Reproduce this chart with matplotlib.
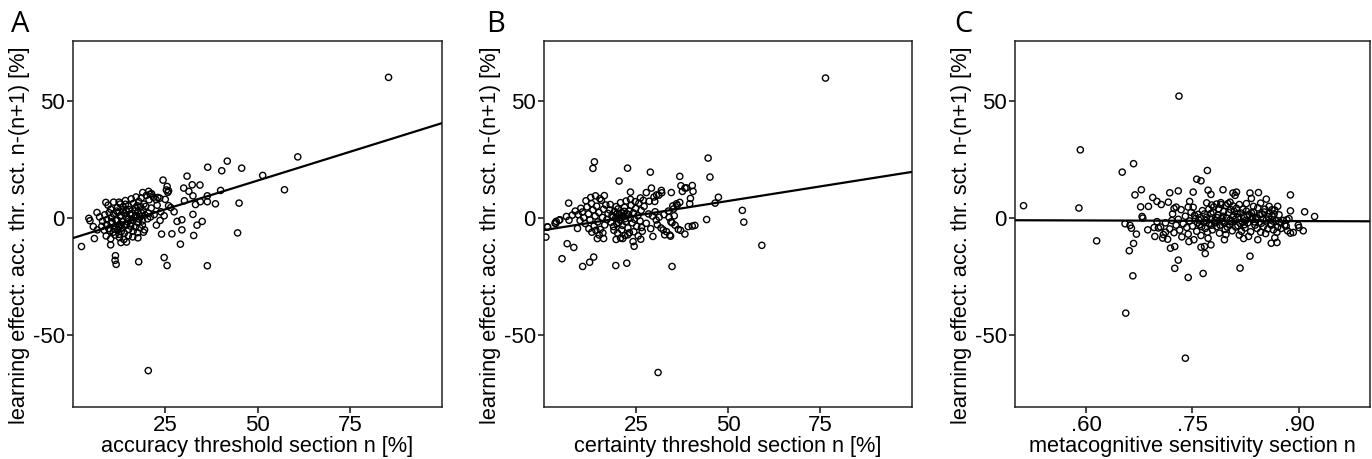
import matplotlib
matplotlib.use("Agg")
import matplotlib.pyplot as plt
import numpy as np

plt.rcParams["font.family"] = ["Liberation Sans", "DejaVu Sans"]
plt.rcParams["axes.unicode_minus"] = False

# ---- panel A: accuracy threshold section n [%] vs learning effect ----
a_pts = [
    # dense core
    (9.5, 5.5), (10.2, 3.8), (11.0, 6.8), (12.0, 4.5), (12.8, 6.0), (13.5, 3.0), (14.2, 7.5),
    (15.0, 5.2), (15.8, 8.2), (16.4, 6.3), (17.1, 9.0), (17.8, 7.1), (18.5, 8.6), (19.2, 6.0),
    (19.9, 9.7), (20.6, 7.8), (21.3, 10.4), (18.9, 10.9), (16.9, 4.4), (17.6, 2.8), (18.3, 4.9),
    (19.0, 3.3), (19.7, 5.0), (20.4, 2.1), (21.2, 4.3), (22.0, 1.5), (22.5, 7.9),
    (7.2, 0.5), (8.0, -1.3), (8.6, 1.4), (9.2, -0.6), (9.8, 2.3), (10.4, 0.2), (11.0, 1.8),
    (11.6, -0.9), (12.2, 2.5), (12.8, 0.8), (13.4, -1.5), (14.0, 1.9), (14.6, 0.1), (15.2, 3.6),
    (15.8, 1.2), (16.4, -0.8), (17.0, 1.0), (17.6, -1.9), (18.2, 0.6), (18.8, -1.2), (19.5, 1.3),
    (20.2, -0.3), (21.0, 0.5),
    (7.8, -3.5), (8.5, -5.2), (9.1, -2.8), (9.7, -4.5), (10.3, -2.0), (10.9, -6.0), (11.5, -3.3),
    (12.1, -5.0), (12.7, -2.6), (13.3, -4.2), (13.9, -6.5), (14.5, -3.0), (15.1, -4.8), (15.7, -2.2),
    (16.3, -5.6), (16.9, -3.8), (17.5, -6.2), (18.1, -4.1), (18.8, -3.0), (19.4, -5.0),
    (9.0, -7.6), (10.2, -8.8), (11.4, -7.2), (12.6, -8.3), (13.8, -9.1), (15.0, -7.5), (16.2, -8.0),
    (12.0, -1.0), (13.0, 1.2), (14.0, -2.8), (15.0, -0.5), (16.0, 2.0), (13.6, 4.8), (11.8, 3.0),
    (10.6, -1.5), (12.4, -3.8), (14.8, -1.6), (15.4, 1.7), (16.8, 3.1), (17.4, 5.3), (14.4, 3.4),
    (13.1, -5.7), (11.2, -4.7), (15.6, -3.4), (17.9, -0.4), (18.6, 2.2), (16.6, 0.2), (14.2, 5.9),
    (12.5, -6.9), (10.0, -5.4),
    # spread
    (85.5, 60.0), (60.9, 26.1), (57.3, 12.1), (51.4, 18.2), (45.7, 21.3), (41.8, 24.3), (36.5, 21.7),
    (40.3, 20.2), (40.0, 11.8), (45.0, 6.4), (44.6, -6.3), (38.6, 6.1), (36.4, 7.0), (36.4, 9.5),
    (34.4, 14.1), (32.3, 14.2), (30.9, 17.9), (30.0, 12.8), (31.4, 11.4), (32.5, 9.5), (30.2, 7.4),
    (34.5, 7.0), (33.2, 5.8), (32.5, 1.6), (35.0, -1.4), (33.6, -3.0), (32.7, -7.4), (29.5, -0.7),
    (28.2, -1.4), (29.5, -5.0), (29.1, -11.1), (26.8, -6.7), (27.4, 2.7), (25.9, 5.3), (25.9, 11.6),
    (25.5, 13.5), (24.4, 16.2), (24.7, 1.0), (23.8, 2.7), (23.6, -1.0), (24.0, -6.8), (22.6, -3.0),
    (24.7, -16.8), (25.5, -20.2), (36.4, -20.3), (17.8, -18.6), (20.4, -65.0), (2.3, -12.1),
    (5.8, -8.7), (11.5, -16.0), (11.4, -18.0), (11.7, -19.7), (10.2, -11.4), (13.0, -10.4),
    (14.5, -10.2), (17.6, -8.4), (19.1, -6.0), (8.9, 6.7), (6.5, 2.4), (4.3, -0.1), (4.6, -1.1),
    (5.5, -3.6), (6.6, -5.0), (12.5, 6.8), (23.0, 8.8), (21.8, 8.9), (20.9, 10.2), (20.5, 11.4),
    (25.3, 12.0), (25.7, 11.0), (23.5, 8.5), (22.8, 5.5), (26.5, 4.5), (25.0, 8.0),
]
a_fit = (-8.5, 0.49)  # value at left edge, slope

# ---- panel B: certainty threshold section n [%] ----
b_pts = [
    (8.5, 3.0), (9.3, 1.5), (9.8, -1.0), (10.4, 2.6), (10.8, 0.2), (11.2, -2.3), (11.7, 4.8),
    (12.1, 1.8), (12.5, -0.8), (12.9, 6.2), (13.3, 3.5), (13.6, -3.4), (13.9, 0.9), (14.3, 5.1),
    (14.6, -1.6), (14.9, 2.4), (15.3, -4.8), (15.6, 7.6), (15.9, 0.3), (16.2, 3.8), (16.5, -2.9),
    (16.8, 5.6), (17.1, -0.6), (17.4, 2.0), (12.2, -4.5), (13.0, -6.0), (14.1, -5.2), (15.0, -7.2),
    (16.0, -6.3), (10.0, 4.2), (11.4, 7.4), (12.7, 8.8), (14.0, 9.5), (15.2, 8.3), (16.4, 9.6),
    (17.8, 3.5), (18.2, -1.8), (18.5, 1.2), (18.9, -3.6), (19.2, 2.8), (19.5, 0.1), (19.8, -2.4),
    (20.1, 3.9), (20.4, 1.5), (20.7, -0.9), (21.0, 2.3), (21.3, -3.1), (21.6, 0.6), (21.9, 4.6),
    (22.2, -1.5), (22.5, 1.9), (22.8, -4.2), (23.1, 3.0), (23.4, 0.0), (23.7, 5.5), (24.0, -2.0),
    (24.3, 2.2), (24.6, -0.5), (24.9, 4.1), (25.2, -3.5), (25.5, 1.0), (25.8, 6.4), (26.1, -1.2),
    (26.4, 3.3), (26.7, -5.6), (19.0, -5.2), (20.0, -6.4), (21.1, -5.0), (22.0, -7.4), (23.2, -6.2),
    (24.4, -5.8), (25.6, -7.6), (26.5, -4.0), (18.0, 5.8), (19.6, 4.9), (20.8, 6.6), (22.3, 7.3),
    (23.5, 8.0), (24.8, 7.0), (26.2, 8.6), (19.9, 2.0), (20.6, 0.2), (21.4, 1.1), (22.1, -0.2),
    (18.7, 0.4), (20.3, -1.9), (21.8, 2.9), (23.0, 1.4),
    (27.2, 5.0), (27.8, -2.2), (28.4, 1.8), (29.0, -4.5), (29.5, 0.9), (30.2, 2.7), (30.8, -2.8),
    (31.3, 0.4), (31.8, -4.2), (32.6, 1.5), (33.3, -5.8), (34.0, 0.3), (34.5, -1.6), (35.2, 3.9),
    (35.6, -3.0), (33.8, 3.0), (35.0, 5.2), (36.2, 5.5), (27.0, 7.6), (28.6, 7.2), (29.9, 9.0),
    (31.2, 9.8), (32.0, 10.8), (30.5, -0.8), (34.8, -2.0), (35.4, 1.0),
    (76.5, 59.7), (44.6, 25.6), (45.1, 17.5), (36.9, 17.8), (28.9, 19.6), (22.7, 21.3), (13.7, 24.0),
    (13.3, 21.2), (20.4, 15.8), (40.3, 13.9), (40.5, 11.4), (39.8, 8.4), (37.2, 13.8), (37.6, 11.4),
    (38.3, 12.8), (47.4, 8.9), (46.5, 6.4), (34.6, 10.9), (39.6, 6.1), (36.9, 6.7), (36.0, 6.1),
    (31.9, 11.8), (29.2, 12.8), (27.8, 10.9), (30.6, 9.9), (30.1, 7.1), (23.5, 11.1), (53.9, 3.3),
    (54.3, -1.7), (59.2, -11.6), (44.2, -0.6), (38.3, -6.8), (36.5, -4.8), (39.2, -3.6), (40.3, -3.4),
    (41.0, -3.1), (34.2, -7.2), (32.8, -7.1), (32.4, -5.0), (29.6, -7.8), (34.8, -20.6), (31.0, -65.8),
    (22.5, -19.2), (19.5, -20.2), (10.5, -20.6), (12.4, -18.8), (13.5, -16.6), (4.9, -17.3),
    (6.3, -10.9), (8.1, -12.5), (0.5, -8.1), (1.0, -3.8), (3.0, -2.1), (3.3, -1.4), (4.3, -0.7),
    (6.7, 6.4), (6.1, 0.7), (6.8, -0.9), (7.7, 1.3), (24.2, -10.0), (24.5, -12.0), (26.3, -9.0),
    (22.8, -7.1), (20.8, -8.5), (9.1, -4.4), (14.5, -8.7), (16.2, -8.7), (19.6, -9.1), (21.4, -8.7),
    (3.2, -2.3), (4.1, -0.9), (0.9, -3.7), (38.7, 12.9), (37.1, -5.2), (34.4, -7.7),
]
b_fit = (-5.1, 0.248)

# ---- panel C: metacognitive sensitivity section n ----
c_pts = [
    (0.700, -1.5), (0.705, -3.8), (0.709, -7.0), (0.712, -2.0), (0.715, -9.0), (0.718, -4.6),
    (0.721, -1.0), (0.724, -6.2), (0.727, -3.0), (0.730, -0.5), (0.732, -5.1), (0.735, -8.0),
    (0.737, -2.4), (0.740, 0.8), (0.742, -4.0), (0.744, -6.8), (0.746, -1.2), (0.748, 2.5),
    (0.750, -3.4), (0.752, -9.2), (0.754, -0.2), (0.756, -5.6), (0.758, 1.6), (0.760, -2.8),
    (0.762, -7.4), (0.764, 3.2), (0.766, -1.8), (0.768, -4.4), (0.770, 0.4), (0.772, -8.6),
    (0.774, -2.2), (0.776, 2.0), (0.778, -5.0), (0.780, 4.8), (0.782, -0.8), (0.784, -3.6),
    (0.786, 1.2), (0.788, -6.4), (0.790, 5.8), (0.792, -1.4), (0.794, 2.8), (0.796, -4.8),
    (0.798, 0.0), (0.800, 6.2), (0.802, -2.6), (0.804, 3.6), (0.806, -5.4), (0.808, 1.0),
    (0.810, -0.6), (0.812, 4.2), (0.814, -3.2), (0.816, -7.2), (0.818, 2.2), (0.820, -1.6),
    (0.822, 0.6), (0.824, -4.2), (0.826, 3.0), (0.828, -2.0), (0.830, 1.6), (0.832, -5.8),
    (0.834, -0.4), (0.836, 2.6), (0.838, -3.0), (0.840, 0.2), (0.842, 4.4), (0.844, -1.8),
    (0.846, -6.0), (0.848, 1.8), (0.850, -3.6), (0.852, 3.8), (0.854, -0.8), (0.856, -4.6),
    (0.858, 2.0), (0.860, -2.4), (0.862, 0.8), (0.864, -5.0), (0.866, 3.4), (0.868, -1.2),
    (0.870, -3.8), (0.872, 1.4), (0.875, -4.4), (0.878, -1.0), (0.882, -3.4), (0.886, -0.2),
    (0.722, 1.8), (0.734, 3.6), (0.745, -10.0), (0.751, 4.6), (0.757, -2.0), (0.761, 0.2),
    (0.763, -3.6), (0.767, 1.8), (0.771, -6.0), (0.775, -0.4), (0.779, 2.6), (0.783, -2.0),
    (0.787, 4.0), (0.789, -3.0), (0.793, 0.8), (0.797, -7.0), (0.801, 2.4), (0.803, -0.8),
    (0.807, 5.2), (0.811, -3.8), (0.815, 0.4), (0.819, -5.6), (0.821, 3.8), (0.825, -1.0),
    (0.829, -7.8), (0.833, 2.2), (0.837, -1.6), (0.841, -4.4), (0.845, 1.4), (0.849, -0.4),
    (0.853, -6.6), (0.857, 0.6), (0.861, -3.0), (0.865, 1.8), (0.869, -6.0), (0.753, 1.2),
    (0.769, -1.0), (0.777, -3.0), (0.785, 0.2), (0.795, -2.2), (0.805, -1.4), (0.813, 1.8),
    (0.823, -2.8), (0.835, 0.4), (0.847, -2.2), (0.759, -0.8), (0.773, 3.8), (0.781, -1.8),
    (0.791, -0.2), (0.799, -3.8), (0.809, 2.8), (0.817, -2.2), (0.827, 1.2), (0.839, -0.2),
    (0.851, 2.6), (0.863, -1.2), (0.873, -1.8), (0.880, -3.0), (0.884, -5.4),
    (0.770, 6.5), (0.777, 5.6), (0.784, 6.0), (0.790, 6.6), (0.797, 5.4), (0.803, 6.8),
    (0.816, 5.8), (0.826, 6.2), (0.836, 5.0), (0.846, 6.4), (0.858, 5.0), (0.862, 3.6),
    (0.512, 5.3), (0.592, 29.1), (0.590, 4.3), (0.615, -9.7), (0.651, 19.6), (0.667, 23.2),
    (0.656, -40.5), (0.666, -24.6), (0.661, -13.9), (0.667, -10.8), (0.671, -6.8), (0.655, -2.4),
    (0.662, -3.1), (0.664, -4.3), (0.669, 9.9), (0.678, 12.1), (0.677, 4.8), (0.679, 0.7),
    (0.680, 0.0), (0.688, 5.0), (0.694, 8.8), (0.700, 7.1), (0.706, 5.8), (0.687, -5.0),
    (0.696, -4.0), (0.697, -7.8), (0.716, 6.8), (0.718, 10.8), (0.724, 4.1), (0.727, 4.7),
    (0.730, 11.6), (0.731, 52.0), (0.719, -12.8), (0.725, -12.1), (0.730, -17.9), (0.725, -21.4),
    (0.744, -25.3), (0.740, -59.7), (0.765, -23.6), (0.768, -15.1), (0.762, -12.4), (0.767, -12.1),
    (0.776, -11.4), (0.756, 16.6), (0.762, 15.9), (0.771, 20.3), (0.751, 11.1), (0.746, 7.1),
    (0.744, 4.7), (0.793, 12.1), (0.772, 11.9), (0.776, 10.1), (0.807, 10.7), (0.810, 9.7),
    (0.812, 11.1), (0.817, -21.3), (0.831, -16.2), (0.831, 10.7), (0.833, 8.4), (0.843, 10.9),
    (0.854, 8.1), (0.888, 9.9), (0.888, 3.1), (0.908, 2.7), (0.922, 0.7), (0.906, -5.4),
    (0.899, -3.0), (0.900, -4.0), (0.892, -6.1), (0.888, -6.4), (0.883, -0.7), (0.870, 5.0),
    (0.861, -10.7), (0.869, -10.4), (0.866, -8.4), (0.842, -9.2), (0.822, -8.7), (0.795, -9.2),
    (0.712, -6.0), (0.708, -8.5), (0.702, -4.2),
]
c_fit = (-0.9, -0.9)

YLABEL = "learning effect: acc. thr. sct. n-(n+1) [%]"
panels = [
    ("A", a_pts, a_fit, "accuracy threshold section n [%]", (0, 100), [25, 50, 75], ["25", "50", "75"]),
    ("B", b_pts, b_fit, "certainty threshold section n [%]", (0, 100), [25, 50, 75], ["25", "50", "75"]),
    ("C", c_pts, c_fit, "metacognitive sensitivity section n", (0.5, 1.0), [0.60, 0.75, 0.90], [".60", ".75", ".90"]),
]
lefts = [0.0532, 0.3965, 0.7398]
widths = [0.2690, 0.2682, 0.2587]
letter_x = [11, 486, 954]

fig = plt.figure(figsize=(13.72, 4.59), dpi=100)
for (letter, pts, fit, xlabel, xlim, xt, xtl), left, w, lx in zip(panels, lefts, widths, letter_x):
    ax = fig.add_axes([left, 0.1133, w, 0.7974])
    xs = np.array([p[0] for p in pts])
    ys = np.array([p[1] for p in pts])
    ax.scatter(xs, ys, s=20, facecolors="none", edgecolors="black", linewidths=1.0, zorder=3)
    xx = np.array(xlim, dtype=float)
    ax.plot(xx, fit[0] + fit[1] * (xx - xlim[0]), color="black", lw=1.6, zorder=4)
    ax.set_xlim(xlim)
    ax.set_ylim(-80.5, 75.5)
    ax.set_xticks(xt)
    ax.set_xticklabels(xtl)
    ax.set_yticks([-50, 0, 50])
    ax.tick_params(labelsize=16, length=4, width=1.2, color="#222222", pad=2)
    for sp in ax.spines.values():
        sp.set_color("#222222")
        sp.set_linewidth(1.1)
    ax.set_xlabel(xlabel, fontsize=15.7, labelpad=0)
    ax.set_ylabel(YLABEL, fontsize=15.7)
    ax.yaxis.set_label_coords(-43 / (w * 1372), 0.47)
    fig.text(lx / 1372, 1 - 32 / 459, letter, fontsize=21, family=["Open Sans", "DejaVu Sans"],
             ha="left", va="baseline")

fig.savefig("out.png", dpi=100)
